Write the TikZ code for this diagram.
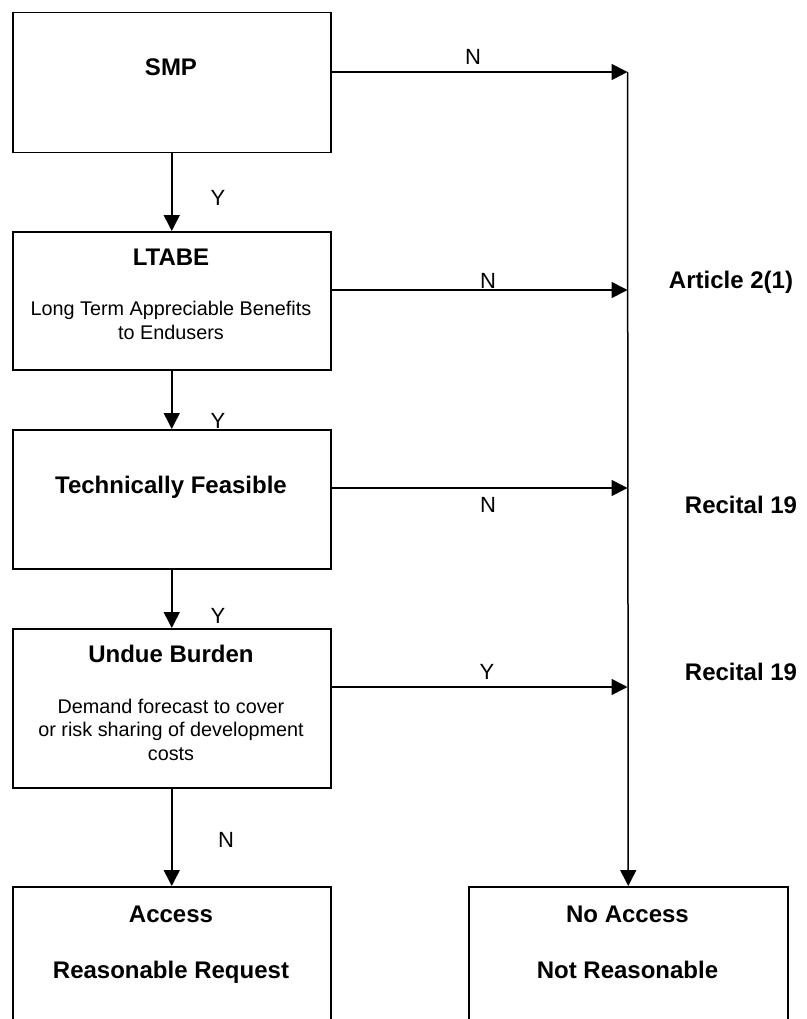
\documentclass[tikz,border=0pt]{standalone}
\usepackage{fontspec}
\setmainfont{Liberation Sans}
\usetikzlibrary{arrows.meta}
\begin{document}
\begin{tikzpicture}[x=1pt,y=-1pt,
  box/.style={draw=black, line width=1.5pt, fill=white, rectangle, inner sep=0pt, anchor=north west},
  ttl/.style={font=\fontsize{24}{28}\selectfont\bfseries, inner sep=0pt, anchor=base},
  sub/.style={font=\fontsize{19.8}{23.5}\selectfont, inner sep=0pt, anchor=base, align=center},
  yn/.style={font=\fontsize{22}{26}\selectfont, inner sep=0pt, anchor=base},
  ref/.style={font=\fontsize{24}{28}\selectfont\bfseries, inner sep=0pt, anchor=base},
  arr/.style={draw=black, line width=1.5pt, -{Triangle[length=16pt,width=16pt]}}]
\useasboundingbox (0,0) rectangle (806,1019);
\clip (0,0) rectangle (806,1019);

% boxes
\node[box, minimum width=318pt, minimum height=140pt] (smp) at (12,12) {};
\node[box, minimum width=318pt, minimum height=138pt] (ltabe) at (12,231) {};
\node[box, minimum width=318pt, minimum height=139pt] (tf) at (12,429) {};
\node[box, minimum width=318pt, minimum height=159pt] (ub) at (12,628) {};
\node[box, minimum width=318pt, minimum height=150pt] (acc) at (12,886) {};
\node[box, minimum width=319pt, minimum height=150pt] (noacc) at (468,886) {};

% box texts
\node[ttl] (tsmp) at (171,76) {SMP};
\node[ttl] (tltabe) at (171,265) {LTABE};
\node[sub] (sltabe) at (171,339) {Long Term Appreciable Benefits\\to Endusers};
\node[ttl] (ttf) at (171,493) {Technically Feasible};
\node[ttl] (tub) at (171,662) {Undue Burden};
\node[sub] (sub2) at (171,760) {Demand forecast to cover\\or risk sharing of development\\costs};
\node[ttl] (tacc) at (171,922) {Access};
\node[ttl] (tacc2) at (171,978) {Reasonable Request};
\node[ttl] (tno) at (627.5,922) {No Access};
\node[ttl] (tno2) at (627.5,978) {Not Reasonable};

% junctions on the spine
\coordinate (j1) at (627.5,72);
\coordinate (j2) at (627.5,290);
\coordinate (j3) at (627.5,488);
\coordinate (j4) at (627.5,687);

% connectors
\draw[arr] (j1) -- (noacc.north);
\draw[arr] (smp.east |- j1) -- (j1);
\draw[arr] (ltabe.east |- j2) -- (j2);
\draw[arr] (tf.east |- j3) -- (j3);
\draw[arr] (ub.east |- j4) -- (j4);
\draw[arr] (smp.south) -- (ltabe.north);
\draw[arr] (ltabe.south) -- (tf.north);
\draw[arr] (tf.south) -- (ub.north);
\draw[arr] (ub.south) -- (acc.north);

% connector labels
\node[yn] (l1) at (473,65) {N};
\node[yn] (l2) at (488,288) {N};
\node[yn] (l3) at (488,512) {N};
\node[yn] (l4) at (487,679) {Y};
\node[yn] (l5) at (218,205) {Y};
\node[yn] (l6) at (218,428) {Y};
\node[yn] (l7) at (218,623) {Y};
\node[yn] (l8) at (226,847) {N};

% references
\node[ref] (r1) at (731,288) {Article 2(1)};
\node[ref] (r2) at (741,513) {Recital 19};
\node[ref] (r3) at (741,680) {Recital 19};
\end{tikzpicture}
\end{document}
